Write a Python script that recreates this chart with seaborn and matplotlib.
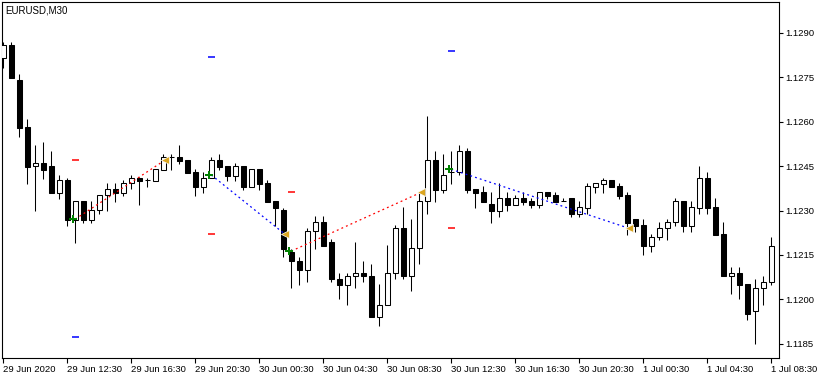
import numpy as np
import pandas as pd
import matplotlib
matplotlib.use("Agg")
import matplotlib.pyplot as plt
import seaborn as sns

symbol_title = "EURUSD,M30"

open_ = [1.12816, 1.12859, 1.12741, 1.12582, 1.12449, 1.12460, 1.12450, 1.12360, 1.12402, 1.12269,
         1.12331, 1.12269, 1.12301, 1.12351, 1.12372, 1.12360, 1.12392, 1.12409, 1.12402, 1.12401,
         1.12438, 1.12480, 1.12480, 1.12470, 1.12429, 1.12380, 1.12409, 1.12470, 1.12449, 1.12418,
         1.12449, 1.12380, 1.12439, 1.12392, 1.12331, 1.12301, 1.12161, 1.12130, 1.12100, 1.12230,
         1.12260, 1.12193, 1.12070, 1.12049, 1.12080, 1.12090, 1.12080, 1.11941, 1.11982, 1.12090,
         1.12240, 1.12080, 1.12172, 1.12331, 1.12470, 1.12370, 1.12430, 1.12430, 1.12501, 1.12372,
         1.12361, 1.12321, 1.12299, 1.12341, 1.12320, 1.12341, 1.12331, 1.12320, 1.12361, 1.12351,
         1.12331, 1.12341, 1.12289, 1.12309, 1.12380, 1.12391, 1.12402, 1.12382, 1.12351, 1.12270,
         1.12250, 1.12181, 1.12209, 1.12240, 1.12260, 1.12331, 1.12249, 1.12309, 1.12409, 1.12311,
         1.12220, 1.12080, 1.12090, 1.12051, 1.11961, 1.12039, 1.12059]
high = [1.12870, 1.12870, 1.12761, 1.12609, 1.12521, 1.12531, 1.12501, 1.12420, 1.12409, 1.12331,
        1.12331, 1.12331, 1.12351, 1.12392, 1.12392, 1.12402, 1.12420, 1.12412, 1.12409, 1.12439,
        1.12491, 1.12491, 1.12521, 1.12470, 1.12439, 1.12429, 1.12480, 1.12491, 1.12449, 1.12459,
        1.12449, 1.12439, 1.12439, 1.12402, 1.12331, 1.12309, 1.12171, 1.12142, 1.12240, 1.12280,
        1.12280, 1.12203, 1.12090, 1.12090, 1.12193, 1.12130, 1.12120, 1.12051, 1.12182, 1.12250,
        1.12312, 1.12271, 1.12361, 1.12619, 1.12501, 1.12491, 1.12501, 1.12521, 1.12511, 1.12372,
        1.12382, 1.12361, 1.12392, 1.12361, 1.12351, 1.12361, 1.12341, 1.12361, 1.12361, 1.12361,
        1.12341, 1.12341, 1.12331, 1.12392, 1.12392, 1.12409, 1.12402, 1.12392, 1.12361, 1.12270,
        1.12270, 1.12220, 1.12260, 1.12270, 1.12341, 1.12331, 1.12331, 1.12450, 1.12430, 1.12341,
        1.12260, 1.12110, 1.12110, 1.12051, 1.12070, 1.12080, 1.12209]
low = [1.12780, 1.12749, 1.12549, 1.12391, 1.12299, 1.12406, 1.12360, 1.12340, 1.12249, 1.12191,
       1.12259, 1.12259, 1.12289, 1.12299, 1.12330, 1.12350, 1.12372, 1.12320, 1.12380, 1.12401,
       1.12438, 1.12438, 1.12458, 1.12428, 1.12350, 1.12360, 1.12409, 1.12438, 1.12401, 1.12401,
       1.12370, 1.12380, 1.12370, 1.12330, 1.12249, 1.12142, 1.12039, 1.12049, 1.12059, 1.12171,
       1.12181, 1.12059, 1.12002, 1.11982, 1.12039, 1.12059, 1.11941, 1.11911, 1.11982, 1.12070,
       1.12070, 1.12029, 1.12120, 1.12289, 1.12330, 1.12360, 1.12391, 1.12419, 1.12360, 1.12309,
       1.12330, 1.12259, 1.12279, 1.12299, 1.12320, 1.12320, 1.12309, 1.12309, 1.12340, 1.12330,
       1.12331, 1.12279, 1.12279, 1.12289, 1.12360, 1.12360, 1.12380, 1.12340, 1.12217, 1.12228,
       1.12151, 1.12161, 1.12201, 1.12201, 1.12249, 1.12228, 1.12228, 1.12289, 1.12289, 1.12218,
       1.12080, 1.12019, 1.12002, 1.11931, 1.11850, 1.11982, 1.12049]
close = [1.12859, 1.12749, 1.12580, 1.12448, 1.12460, 1.12438, 1.12360, 1.12402, 1.12269, 1.12331,
         1.12269, 1.12301, 1.12351, 1.12372, 1.12360, 1.12392, 1.12409, 1.12401, 1.12402, 1.12439,
         1.12480, 1.12480, 1.12468, 1.12428, 1.12380, 1.12409, 1.12470, 1.12448, 1.12418, 1.12449,
         1.12380, 1.12439, 1.12391, 1.12330, 1.12309, 1.12171, 1.12130, 1.12100, 1.12230, 1.12260,
         1.12181, 1.12070, 1.12049, 1.12080, 1.12090, 1.12080, 1.11941, 1.11982, 1.12090, 1.12240,
         1.12080, 1.12172, 1.12331, 1.12470, 1.12370, 1.12419, 1.12430, 1.12501, 1.12370, 1.12360,
         1.12330, 1.12299, 1.12341, 1.12320, 1.12341, 1.12330, 1.12320, 1.12361, 1.12350, 1.12330,
         1.12331, 1.12289, 1.12311, 1.12382, 1.12392, 1.12402, 1.12380, 1.12350, 1.12258, 1.12249,
         1.12181, 1.12209, 1.12240, 1.12260, 1.12331, 1.12249, 1.12311, 1.12409, 1.12309, 1.12218,
         1.12080, 1.12090, 1.12049, 1.11951, 1.12039, 1.12059, 1.12181]

# trades (bar index of entry / exit, prices)
entry_bar = [9, 26, 36, 56]
entry_price = [1.12271, 1.12420, 1.12163, 1.12439]
exit_bar = [20, 35, 52, 78]
exit_price = [1.12470, 1.12220, 1.12361, 1.12240]
trade_color = ["red", "blue", "red", "blue"]
tp_level = [1.12470, 1.12220, 1.12361, 1.12240]
sl_level = [1.11872, 1.12818, np.nan, 1.12839]

xtick_bars = [0, 8, 16, 24, 32, 40, 48, 56, 64, 72, 80, 88, 96]
xtick_labels = ["29 Jun 2020", "29 Jun 12:30", "29 Jun 16:30", "29 Jun 20:30", "30 Jun 00:30",
                "30 Jun 04:30", "30 Jun 08:30", "30 Jun 12:30", "30 Jun 16:30", "30 Jun 20:30",
                "1 Jul 00:30", "1 Jul 04:30", "1 Jul 08:30"]
ytick_values = [1.1185, 1.1200, 1.1215, 1.1230, 1.1245, 1.1260, 1.1275, 1.1290]

sns.set_theme(style="white")
plt.rcParams["font.family"] = ["Liberation Sans", "DejaVu Sans"]
FS = 6.8

df = pd.DataFrame({"open": open_, "high": high, "low": low, "close": close})
df["bar"] = np.arange(len(df))
df["lo_b"] = df[["open", "close"]].min(axis=1)
df["hi_b"] = df[["open", "close"]].max(axis=1)
up = df["close"] >= df["open"]

W, H = 820, 379
fig = plt.figure(figsize=(W / 100, H / 100), dpi=100)
fig.patch.set_facecolor("white")
ax = fig.add_axes([2 / W, 1 - 358 / H, 777 / W, 356 / H])
ax.set_facecolor("white")

lw = 0.75
# wicks
ax.vlines(df["bar"], df["low"], df["high"], color="black", linewidth=lw, zorder=2)
# bodies
bw = 0.62
ax.bar(df.loc[up, "bar"], df.loc[up, "hi_b"] - df.loc[up, "lo_b"], bottom=df.loc[up, "lo_b"],
       width=bw, facecolor="white", edgecolor="black", linewidth=lw, zorder=3)
ax.bar(df.loc[~up, "bar"], df.loc[~up, "hi_b"] - df.loc[~up, "lo_b"], bottom=df.loc[~up, "lo_b"],
       width=bw, facecolor="black", edgecolor="black", linewidth=lw, zorder=3)

# trade lines
for eb, ep, xb, xp, c in zip(entry_bar, entry_price, exit_bar, exit_price, trade_color):
    ax.plot([eb, xb + 0.2], [ep, xp], color=c, linewidth=0.9,
            linestyle=(0, (1.5, 2.5)), zorder=4)

# SL / TP dashes
ax.hlines(tp_level, np.array(entry_bar) - 0.42, np.array(entry_bar) + 0.42,
          color="red", linewidth=1.1, zorder=4)
ax.hlines(sl_level, np.array(entry_bar) - 0.42, np.array(entry_bar) + 0.42,
          color="blue", linewidth=1.1, zorder=4)

trades = pd.DataFrame({"entry_bar": entry_bar, "entry_price": entry_price,
                       "exit_bar": exit_bar, "exit_price": exit_price})
sns.scatterplot(x=trades["entry_bar"] - 0.3, y=trades["entry_price"], marker="P", s=38,
                color="green", edgecolor="green", linewidth=0, ax=ax, zorder=5)
sns.scatterplot(x=trades["exit_bar"] + 0.2, y=trades["exit_price"], marker="<", s=34,
                color="#DAA520", edgecolor="white", linewidth=0.5, ax=ax, zorder=5)

ax.set_xlim(-0.16, 96.96)
ax.set_ylim(1.118017, 1.130044)
ax.set_xlabel("")
ax.set_ylabel("")

for s in ax.spines.values():
    s.set_color("black")
    s.set_linewidth(0.8)
    s.set_visible(True)

ax.set_xticks(xtick_bars)
ax.set_xticklabels(xtick_labels, fontsize=FS)
for lab in ax.get_xticklabels():
    lab.set_horizontalalignment("left")
ax.tick_params(axis="x", direction="out", length=3.5, width=0.8, color="black", pad=1.5,
               bottom=True, labelcolor="black")

ax.yaxis.tick_right()
ax.set_yticks(ytick_values)
ax.set_yticklabels([f"{v:.4f}" for v in ytick_values], fontsize=FS)
ax.tick_params(axis="y", direction="out", length=3, width=0.8, color="black", pad=1.5,
               right=True, left=False, labelcolor="black")

fig.text(5 / W, 1 - 10.5 / H, symbol_title, fontsize=7, ha="left", va="center", color="black")

fig.savefig("out.png", dpi=100, facecolor="white")
